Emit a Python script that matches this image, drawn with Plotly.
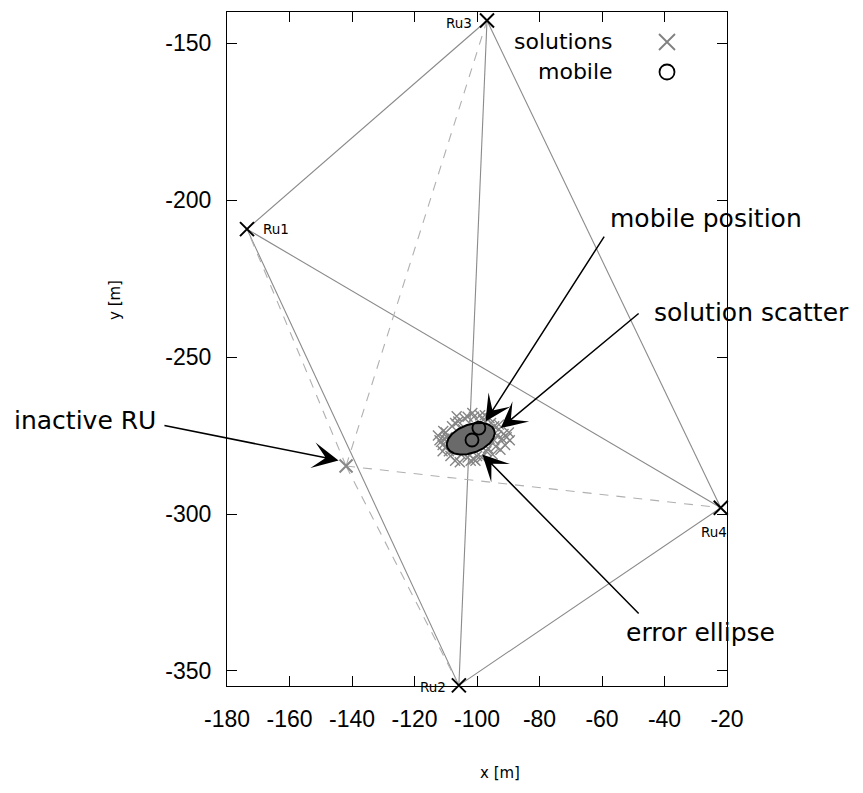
import numpy as np
import plotly.graph_objects as go

# ---------------- data ----------------
ru_names = ["Ru1", "Ru2", "Ru3", "Ru4"]
ru_x = [-173.6, -105.8, -96.8, -22.0]
ru_y = [-209.2, -354.6, -142.7, -298.0]

inactive_x = [-141.9]
inactive_y = [-284.7]

mobile_x = [-99.4, -101.6]
mobile_y = [-272.6, -276.4]

sol_x = [-110.5, -111.0, -110.0, -109.0, -108.0, -107.0, -106.0, -105.0, -104.0, -103.0,
         -101.0, -100.0, -98.0, -97.0, -95.5, -94.0, -93.0, -92.0, -91.5, -96.0,
         -99.0, -102.0, -104.0, -106.0, -100.0, -98.0, -108.0, -93.5, -109.5, -104.5,
         -96.5, -99.0, -102.0, -111.5, -90.5, -89.5, -112.0, -94.5, -107.5, -101.0,
         -110.8, -109.8, -107.0, -105.5, -103.0, -100.5, -97.5, -95.0, -93.0, -91.0,
         -89.8, -112.5, -108.5, -98.5, -96.0, -106.5, -94.5, -92.5, -111.0, -101.5]
sol_y = [-276.0, -278.0, -274.0, -280.0, -272.0, -283.0, -270.5, -281.0, -269.5, -282.0,
         -269.0, -281.5, -270.0, -280.0, -271.0, -278.5, -273.0, -276.0, -274.5, -276.0,
         -274.0, -276.0, -278.0, -276.0, -278.0, -273.0, -277.0, -275.0, -275.5, -273.0,
         -279.0, -268.5, -283.0, -277.0, -275.5, -276.5, -276.5, -272.0, -279.5, -282.5,
         -273.5, -278.5, -271.0, -283.5, -269.0, -283.0, -268.5, -281.0, -271.5, -278.0,
         -274.0, -275.0, -281.5, -282.0, -269.5, -268.8, -276.5, -279.5, -280.0, -267.8]

ellipse_cx, ellipse_cy = -102.0, -276.0
ellipse_a, ellipse_b = 8.0, 4.5
ellipse_angle_deg = 20.0

x_ticks = [-180, -160, -140, -120, -100, -80, -60, -40, -20]
x_ticktext = ["-180", "-160", "-140", "-120", "-100", "-80", "-60", "-40", "-20"]
y_ticks = [-350, -300, -250, -200, -150]
y_ticktext = ["-350", "-300", "-250", "-200", "-150"]

# ---------------- figure ----------------
OFF = 8  # page body margin
W, H = 863 - OFF, 793 - OFF
L, R, T, B = 227 - OFF, 136, 12 - OFF, 107
PW, PH = W - L - R, H - T - B


def px2paper(px, py):
    """page pixel -> paper fraction"""
    return (px - OFF - L) / PW, (H - B - (py - OFF)) / PH


fig = go.Figure()

# solid links among active RUs
lx, ly = [], []
for i in range(4):
    for j in range(i + 1, 4):
        lx += [ru_x[i], ru_x[j], None]
        ly += [ru_y[i], ru_y[j], None]
fig.add_trace(go.Scatter(x=lx, y=ly, mode="lines",
                         line=dict(color="#8a8a8a", width=1.1),
                         hoverinfo="skip", showlegend=False, cliponaxis=False))

# dashed links from the inactive RU
dx, dy = [], []
for i in range(4):
    dx += [inactive_x[0], ru_x[i], None]
    dy += [inactive_y[0], ru_y[i], None]
fig.add_trace(go.Scatter(x=dx, y=dy, mode="lines",
                         line=dict(color="#b0b0b0", width=1.1, dash="9px,8px"),
                         hoverinfo="skip", showlegend=False, cliponaxis=False))

# solution scatter
fig.add_trace(go.Scatter(x=sol_x, y=sol_y, mode="markers",
                         marker=dict(symbol="x-thin-open", size=10, color="#858585",
                                     line=dict(color="#858585", width=1.4)),
                         showlegend=False, cliponaxis=False))

# error ellipse
t = np.linspace(0, 2 * np.pi, 200)
ang = np.deg2rad(ellipse_angle_deg)
ex = ellipse_cx + ellipse_a * np.cos(t) * np.cos(ang) - ellipse_b * np.sin(t) * np.sin(ang)
ey = ellipse_cy + ellipse_a * np.cos(t) * np.sin(ang) + ellipse_b * np.sin(t) * np.cos(ang)
fig.add_trace(go.Scatter(x=ex, y=ey, mode="lines", fill="toself",
                         fillcolor="#6a6a6a", line=dict(color="black", width=2),
                         hoverinfo="skip", showlegend=False))

# mobile positions
fig.add_trace(go.Scatter(x=mobile_x, y=mobile_y, mode="markers",
                         marker=dict(symbol="circle-open", size=13, color="black",
                                     line=dict(color="black", width=1.8)),
                         showlegend=False, cliponaxis=False))

# inactive RU
fig.add_trace(go.Scatter(x=inactive_x, y=inactive_y, mode="markers",
                         marker=dict(symbol="x-thin-open", size=13, color="#888888",
                                     line=dict(color="#888888", width=2)),
                         showlegend=False, cliponaxis=False))

# active RUs
fig.add_trace(go.Scatter(x=ru_x, y=ru_y, mode="markers",
                         marker=dict(symbol="x-thin-open", size=14, color="black",
                                     line=dict(color="black", width=2)),
                         showlegend=False, cliponaxis=False))

annotations = []

# RU labels
ru_label_style = [
    dict(xanchor="left", xshift=14, yshift=0),
    dict(xanchor="right", xshift=-11, yshift=-2),
    dict(xanchor="right", xshift=-13, yshift=-3),
    dict(xanchor="right", xshift=8, yshift=-24),
]
for name, x, y, st in zip(ru_names, ru_x, ru_y, ru_label_style):
    annotations.append(dict(x=x, y=y, xref="x", yref="y", text=name, showarrow=False,
                            font=dict(family="DejaVu Sans", size=13.5, color="black"),
                            yanchor="middle", **st))

# arrows (tail -> head), data coordinates
arrows = [
    ((-59.0, -211.1), (-97.3, -270.5)),
    ((-47.8, -235.7), (-92.4, -272.6)),
    ((-200.5, -271.7), (-144.3, -282.9)),
    ((-47.8, -332.2), (-98.3, -281.0)),
]
for (tx, ty), (hx, hy) in arrows:
    annotations.append(dict(x=hx, y=hy, xref="x", yref="y", ax=tx, ay=ty,
                            axref="x", ayref="y", text="", showarrow=True,
                            arrowhead=3, arrowsize=2.9, arrowwidth=1.5,
                            arrowcolor="black"))

# annotation texts
txt_font = dict(family="DejaVu Sans", size=25, color="black")
for text, (px, py) in [("mobile position", (706, 218)),
                       ("solution scatter", (751, 312)),
                       ("inactive RU", (85, 420)),
                       ("error ellipse", (700, 632))]:
    xp, yp = px2paper(px, py)
    annotations.append(dict(x=xp, y=yp, xref="paper", yref="paper", text=text,
                            showarrow=False, xanchor="center", yanchor="middle",
                            font=txt_font))

# legend texts
leg_font = dict(family="DejaVu Sans", size=22, color="black")
for text, py in [("solutions", 42), ("mobile", 72)]:
    xp, yp = px2paper(615, py)
    annotations.append(dict(x=xp, y=yp, xref="paper", yref="paper", text=text,
                            showarrow=False, xanchor="right", yanchor="middle",
                            font=leg_font))

# axis titles
xp, yp = px2paper(500, 773)
annotations.append(dict(x=xp, y=yp, xref="paper", yref="paper", text="x [m]",
                        showarrow=False, xanchor="center", yanchor="middle",
                        font=dict(family="DejaVu Sans", size=15, color="black")))
xp, yp = px2paper(115, 300)
annotations.append(dict(x=xp, y=yp, xref="paper", yref="paper", text="y [m]", textangle=-90,
                        showarrow=False, xanchor="center", yanchor="middle",
                        font=dict(family="DejaVu Sans", size=15, color="black")))

# legend keys on an overlay axis in plot-fraction coordinates
kx1, ky1 = px2paper(667, 42)
kx2, ky2 = px2paper(667, 72)
fig.add_trace(go.Scatter(x=[kx1], y=[ky1], xaxis="x2", yaxis="y2", mode="markers",
                         marker=dict(symbol="x-thin-open", size=16, color="#808080",
                                     line=dict(color="#808080", width=1.8)),
                         showlegend=False, cliponaxis=False))
fig.add_trace(go.Scatter(x=[kx2], y=[ky2], xaxis="x2", yaxis="y2", mode="markers",
                         marker=dict(symbol="circle-open", size=15, color="black",
                                     line=dict(color="black", width=1.8)),
                         showlegend=False, cliponaxis=False))

tick_font = dict(family="Liberation Sans", size=23, color="black")
fig.update_layout(
    width=W, height=H,
    margin=dict(l=L, r=R, t=T, b=B, pad=0),
    paper_bgcolor="white", plot_bgcolor="white",
    showlegend=False,
    annotations=annotations,
    xaxis=dict(range=[-180, -20], tickvals=x_ticks, ticktext=x_ticktext,
               ticks="inside", ticklen=10, tickwidth=1, tickcolor="black",
               showline=True, linecolor="black", linewidth=1.2, mirror="ticks",
               showgrid=False, zeroline=False, tickfont=tick_font,
               ticklabelstandoff=12),
    yaxis=dict(range=[-354.8, -140], tickvals=y_ticks, ticktext=y_ticktext,
               ticks="inside", ticklen=10, tickwidth=1, tickcolor="black",
               showline=True, linecolor="black", linewidth=1.2, mirror="ticks",
               showgrid=False, zeroline=False, tickfont=tick_font,
               ticklabelstandoff=10),
    xaxis2=dict(range=[0, 1], overlaying="x", visible=False, fixedrange=True),
    yaxis2=dict(range=[0, 1], overlaying="y", visible=False, fixedrange=True),
)

fig.write_html("out.html")
